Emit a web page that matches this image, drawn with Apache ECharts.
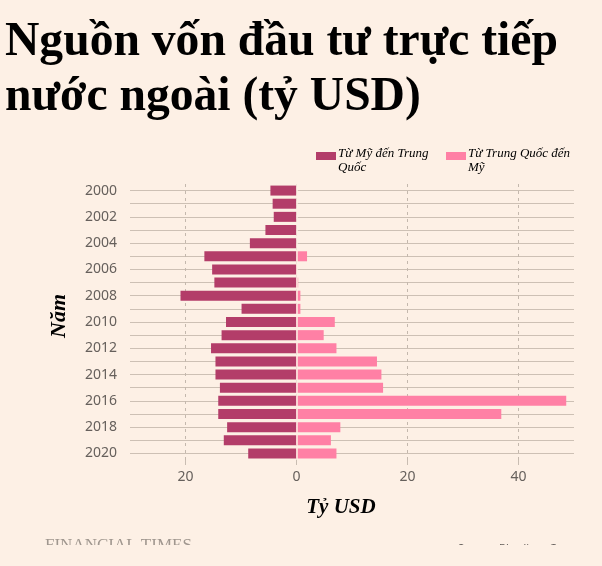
<!DOCTYPE html>
<html>
<head>
<meta charset="utf-8">
<script src="https://cdn.jsdelivr.net/npm/echarts@6/dist/echarts.min.js"></script>
<style>
  html, body { margin: 0; padding: 0; background: #fdf0e5; }
  #chart { width: 602px; height: 566px; }
</style>
</head>
<body>
<div id="chart"></div>
<script>
// dữ liệu
const years = ['2000', '2001', '2002', '2003', '2004', '2005', '2006', '2007', '2008', '2009', '2010',
  '2011', '2012', '2013', '2014', '2015', '2016', '2017', '2018', '2019', '2020'];
const usToChina = [4.7, 4.3, 4.1, 5.6, 8.4, 16.6, 15.2, 14.8, 20.9, 9.9, 12.7,
  13.5, 15.4, 14.6, 14.6, 13.8, 14.1, 14.1, 12.5, 13.1, 8.7];
const chinaToUs = [0, 0, 0, 0, 0, 1.9, 0.1, 0.3, 0.7, 0.7, 6.9,
  4.9, 7.2, 14.5, 15.3, 15.6, 48.6, 36.9, 7.9, 6.2, 7.2];
const xTicks = [-20, 0, 20, 40];

const bg = '#fdf0e5';
const colorUs = '#b33d69';
const colorCn = '#ff80a5';
const serif = '"Liberation Serif", "Times New Roman", serif';
const sans = '"Noto Sans", sans-serif';

let chart = echarts.init(document.getElementById('chart'));

chart.setOption({
  backgroundColor: bg,
  animation: false,
  grid: { left: 130, right: 28, top: 184, bottom: 106 },
  xAxis: {
    type: 'value',
    min: -30,
    max: 50,
    axisLine: { show: false },
    splitLine: { show: false },
    axisTick: { show: true, customValues: xTicks, length: 5, lineStyle: { color: '#c9bdb2' } },
    axisLabel: {
      customValues: xTicks,
      formatter: v => Math.abs(v),
      color: '#66605c', fontFamily: sans, fontSize: 14, margin: 10
    }
  },
  yAxis: {
    type: 'category',
    inverse: true,
    data: years,
    axisLine: { show: false },
    axisTick: { show: false },
    splitLine: { show: false },
    axisLabel: { interval: 1, color: '#66605c', fontFamily: sans, fontSize: 14, margin: 13 }
  },
  series: [
    {
      name: 'Từ Mỹ đến Trung Quốc',
      type: 'bar',
      barWidth: 10,
      barGap: '-100%',
      data: usToChina.map(v => -v),
      itemStyle: { color: colorUs },
      markLine: {
        z: 1,
        silent: true,
        symbol: 'none',
        label: { show: false },
        data: years.map(y => ({ yAxis: y, lineStyle: { color: '#cdc0b4', type: 'solid', width: 1 } }))
          .concat(xTicks.map(x => ({ xAxis: x, lineStyle: { color: '#c4b8ad', type: [3, 4], width: 1 } })))
      }
    },
    {
      name: 'Từ Trung Quốc đến Mỹ',
      type: 'bar',
      barWidth: 10,
      data: chinaToUs,
      itemStyle: { color: colorCn },
      markLine: {
        z: 3,
        silent: true,
        symbol: 'none',
        label: { show: false },
        data: [{ xAxis: 0, lineStyle: { color: bg, type: 'solid', width: 1.5 } }]
      }
    }
  ],
  graphic: [
    // tiêu đề
    { type: 'text', x: 5, y: 43, style: { text: 'Nguồn vốn đầu tư trực tiếp', font: 'bold 47.6px ' + serif, fill: '#000', verticalAlign: 'middle' } },
    { type: 'text', x: 5, y: 98, style: { text: 'nước ngoài (tỷ USD)', font: 'bold 47.6px ' + serif, fill: '#000', verticalAlign: 'middle' } },
    // chú giải
    { type: 'rect', shape: { x: 316, y: 152, width: 20, height: 8 }, style: { fill: colorUs } },
    { type: 'text', x: 338, y: 147, style: { text: 'Từ Mỹ đến Trung\nQuốc', font: 'italic 13px ' + serif, lineHeight: 14, fill: '#000' } },
    { type: 'rect', shape: { x: 446, y: 152, width: 20, height: 8 }, style: { fill: colorCn } },
    { type: 'text', x: 468, y: 147, style: { text: 'Từ Trung Quốc đến\nMỹ', font: 'italic 13px ' + serif, lineHeight: 14, fill: '#000' } },
    // tên trục
    { type: 'text', x: 59, y: 316, rotation: Math.PI / 2, style: { text: 'Năm', font: 'bold italic 22px ' + serif, fill: '#000', align: 'center', verticalAlign: 'middle' } },
    { type: 'text', x: 341, y: 508, style: { text: 'Tỷ USD', font: 'bold italic 21px ' + serif, fill: '#000', align: 'center', verticalAlign: 'middle' } },
    // chân trang bị che một nửa
    { type: 'text', x: 45, y: 546, style: { text: 'FINANCIAL TIMES', font: '17px ' + serif, fill: '#a0978f', verticalAlign: 'middle' } },
    { type: 'text', x: 458, y: 549, style: { text: 'Source: Rhodium Group', font: '11px ' + sans, fill: '#66605c', verticalAlign: 'middle' } },
    { type: 'rect', z: 100, shape: { x: 0, y: 545, width: 602, height: 21 }, style: { fill: bg } }
  ]
});
</script>
</body>
</html>
